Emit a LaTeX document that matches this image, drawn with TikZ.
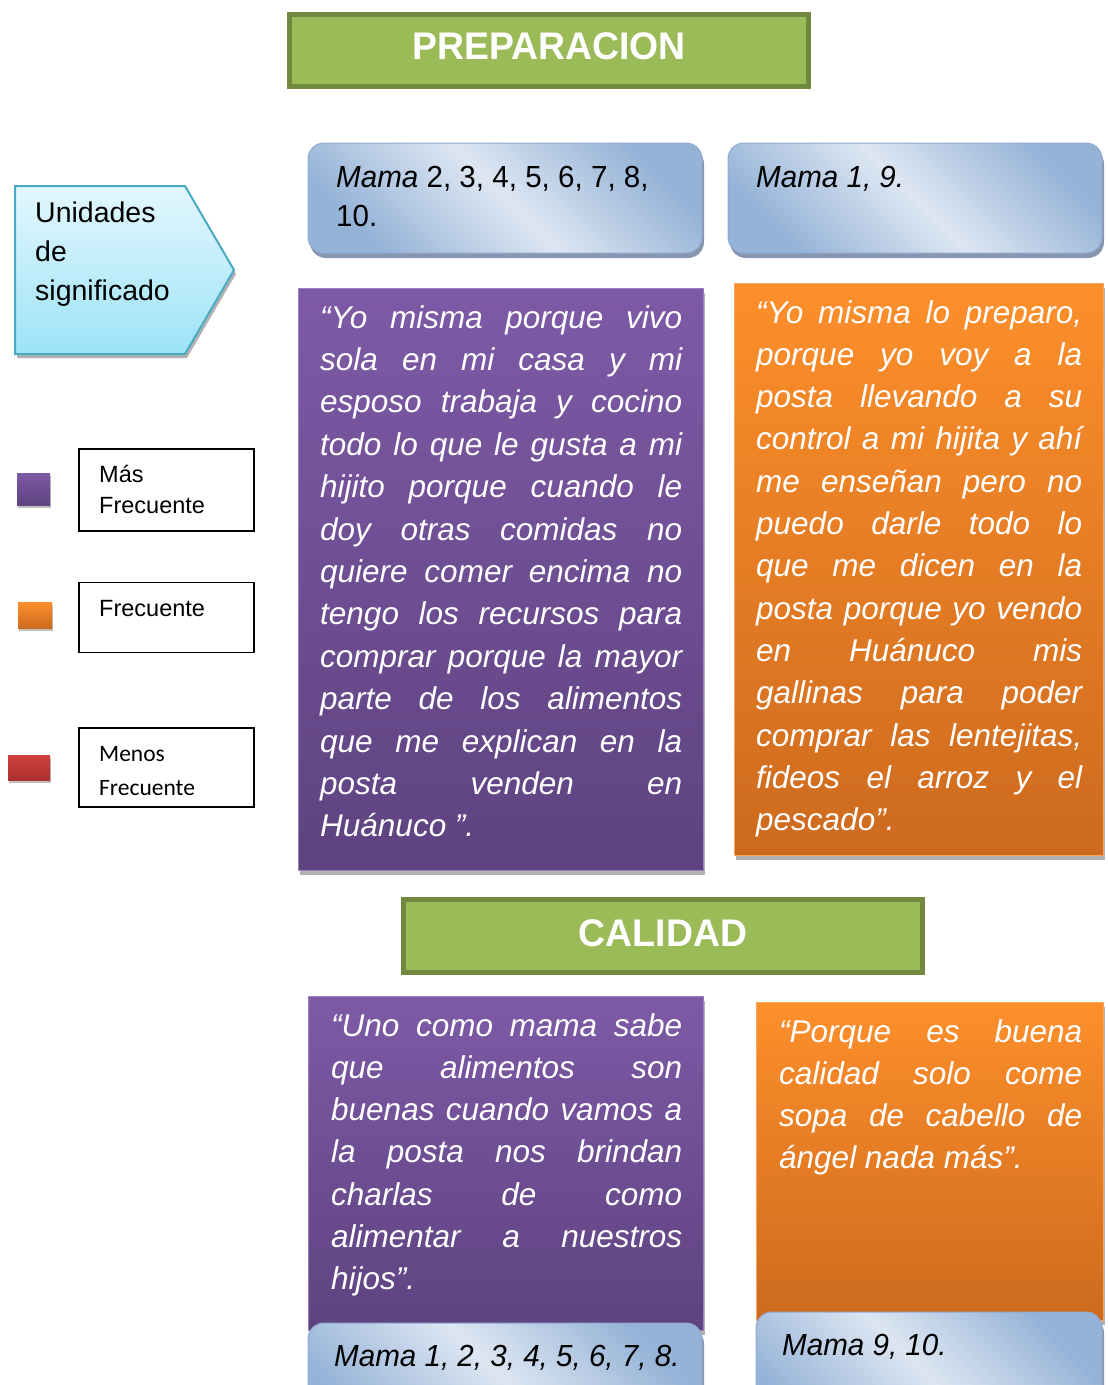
\documentclass[tikz,border=0pt]{standalone}
\usepackage{fontspec}
\setmainfont{Liberation Sans}
\newfontfamily\calib{Carlito}
\newfontfamily\condA[FakeStretch=0.97]{Liberation Sans}
\usetikzlibrary{shadows}
\definecolor{grnF}{HTML}{9BBB59}
\definecolor{grnD}{HTML}{71893F}
\definecolor{purT}{HTML}{7E5AA6}
\definecolor{purB}{HTML}{5E4380}
\definecolor{purE}{HTML}{9A82BC}
\definecolor{orgT}{HTML}{FD8F2B}
\definecolor{orgB}{HTML}{CD6A1E}
\definecolor{orgE}{HTML}{F9A45F}
\definecolor{bluD}{HTML}{95B3D7}
\definecolor{bluL}{HTML}{DDE6F2}
\definecolor{bluE}{HTML}{8FAAD2}
\definecolor{bluS}{HTML}{8796AE}
\definecolor{cyT}{HTML}{E3F7FD}
\definecolor{cyB}{HTML}{9DE3F7}
\definecolor{cyE}{HTML}{4AAAC5}
\definecolor{redT}{HTML}{D0403E}
\definecolor{redB}{HTML}{A8302E}
\newcommand\jl[1]{\makebox[\linewidth][s]{#1}\par}
\tikzset{
  titlebox/.style={draw=grnD, line width=5pt, fill=grnF, inner sep=0pt, outer sep=0pt},
  titletxt/.style={text=white, inner sep=0pt, font=\condA\fontsize{38.5}{40}\bfseries\selectfont},
  softshadow/.style={drop shadow={shadow xshift=2pt, shadow yshift=-5pt, opacity=0.3, fill=black}},
  purbox/.style={draw=purE, line width=1pt, top color=purT, bottom color=purB, inner sep=0pt, outer sep=0pt, softshadow},
  orgbox/.style={draw=orgE, line width=1pt, top color=orgT, bottom color=orgB, inner sep=0pt, outer sep=0pt, softshadow},
  bluebox/.style={draw=bluE, line width=1pt, rounded corners=16pt, top color=bluD, bottom color=bluD, middle color=bluL, shading angle=-45, inner sep=0pt, outer sep=0pt,
     drop shadow={shadow xshift=2pt, shadow yshift=-5pt, opacity=1, fill=bluS}},
  quotetxt/.style={text=white, inner sep=0pt, anchor=base west, font=\itshape},
  bluetxt/.style={text=black, inner sep=0pt, anchor=base west},
  legbox/.style={draw=black, line width=1.5pt, fill=white, inner sep=0pt, outer sep=0pt},
  legtxt/.style={text=black, inner sep=0pt, anchor=base west},
  sqshadow/.style={drop shadow={shadow xshift=1pt, shadow yshift=-3pt, opacity=0.25, fill=black}},
}
\begin{document}
\begin{tikzpicture}[x=1pt,y=-1pt]
\useasboundingbox (0,0) rectangle (1108,1385);
\clip (0,0) rectangle (1108,1385);
\fill[white] (0,0) rectangle (1108,1385);

% ---------- titles ----------
\node[titlebox, minimum width=519pt, minimum height=72pt] (prep) at (549,50.5) {};
\node[titletxt] (prepT) at (549,46) {PREPARACION};
\node[titlebox, minimum width=519pt, minimum height=73pt] (cal) at (663,936) {};
\node[titletxt] (calT) at (663,933) {CALIDAD};

% ---------- pentagon ----------
\draw[draw=cyE, line width=2pt, top color=cyT, bottom color=cyB,
      drop shadow={shadow xshift=2pt, shadow yshift=-4pt, opacity=0.3, fill=black}]
  (15,186) -- (185,186) -- (234,270) -- (185,354) -- (15,354) -- cycle;
\node[legtxt] (unid) at (35,222) {\parbox[t]{150pt}{\fontsize{28.5}{39}\selectfont Unidades\par de\par significado\par}};

% ---------- legend ----------
\node[draw=none, minimum width=33pt, minimum height=32pt, inner sep=0pt, top color=purT, bottom color=purB, sqshadow] (sqP) at (33.5,489) {};
\node[draw=none, minimum width=34pt, minimum height=26pt, inner sep=0pt, top color=orgT, bottom color=orgB, sqshadow] (sqO) at (35,615) {};
\node[draw=none, minimum width=42pt, minimum height=25pt, inner sep=0pt, top color=redT, bottom color=redB, sqshadow] (sqR) at (29,767.5) {};
\node[legbox, minimum width=175pt, minimum height=82pt] (lg1) at (166.5,490) {};
\node[legbox, minimum width=175pt, minimum height=70pt] (lg2) at (166.5,617.5) {};
\node[legbox, minimum width=175pt, minimum height=79pt] (lg3) at (166.5,767.5) {};
\node[legtxt] (lg1t) at (99,482) {\parbox[t]{150pt}{\fontsize{23.5}{31}\selectfont Más\par Frecuente\par}};
\node[legtxt] (lg2t) at (99,616) {\fontsize{23.5}{31}\selectfont Frecuente};
\node[legtxt] (lg3t) at (99,761.5) {\parbox[t]{150pt}{\calib\fontsize{23.5}{34}\selectfont Menos\par Frecuente\par}};

% ---------- top blue boxes ----------
\node[bluebox, minimum width=394pt, minimum height=110pt] (b1) at (505,198) {};
\node[bluebox, minimum width=374pt, minimum height=110pt] (b2) at (915,198) {};
\node[bluetxt] (b1t) at (336,187) {\parbox[t]{360pt}{\condA\fontsize{30.5}{39}\selectfont\textit{Mama} 2, 3, 4, 5, 6, 7, 8,\par 10.\par}};
\node[bluetxt] (b2t) at (756,187) {\condA\fontsize{30.5}{39}\selectfont\textit{Mama 1, 9.}};

% ---------- quote boxes (preparacion) ----------
\node[purbox, minimum width=405pt, minimum height=582pt] (p1) at (500.5,579) {};
\node[orgbox, minimum width=369pt, minimum height=572pt] (o1) at (918.5,569) {};
\node[quotetxt] (p1t) at (320,328) {\parbox[t]{362pt}{\fontsize{31.5}{42.4}\selectfont
\jl{“Yo misma porque vivo}
\jl{sola en mi casa y mi}
\jl{esposo trabaja y cocino}
\jl{todo lo que le gusta a mi}
\jl{hijito porque cuando le}
\jl{doy otras comidas no}
\jl{quiere comer encima no}
\jl{tengo los recursos para}
\jl{comprar porque la mayor}
\jl{parte de los alimentos}
\jl{que me explican en la}
\jl{posta venden en}
Huánuco ”.\par}};
\node[quotetxt] (o1t) at (756,323) {\parbox[t]{326pt}{\fontsize{31.5}{42.3}\selectfont
\jl{“Yo misma lo preparo,}
\jl{porque yo voy a la}
\jl{posta llevando a su}
\jl{control a mi hijita y ahí}
\jl{me enseñan pero no}
\jl{puedo darle todo lo}
\jl{que me dicen en la}
\jl{posta porque yo vendo}
\jl{en Huánuco mis}
\jl{gallinas para poder}
\jl{comprar las lentejitas,}
\jl{fideos el arroz y el}
pescado”.\par}};

% ---------- quote boxes (calidad) ----------
\node[purbox, minimum width=395pt, minimum height=334pt] (p2) at (505.5,1163) {};
\node[orgbox, minimum width=347pt, minimum height=318pt] (o2) at (929.5,1161) {};
\node[quotetxt] (p2t) at (331,1036) {\parbox[t]{351pt}{\fontsize{31.5}{42.3}\selectfont
\jl{“Uno como mama sabe}
\jl{que alimentos son}
\jl{buenas cuando vamos a}
\jl{la posta nos brindan}
\jl{charlas de como}
\jl{alimentar a nuestros}
hijos”.\par}};
\node[quotetxt] (o2t) at (779,1042) {\parbox[t]{303pt}{\fontsize{31.5}{42}\selectfont
\jl{“Porque es buena}
\jl{calidad solo come}
\jl{sopa de cabello de}
ángel nada más”.\par}};

% ---------- bottom blue boxes ----------
\node[bluebox, minimum width=394pt, minimum height=117pt] (b3) at (505,1381.5) {};
\node[bluebox, minimum width=346pt, minimum height=128pt] (b4) at (929,1376) {};
\node[bluetxt] (b3t) at (334,1366) {\condA\fontsize{30.5}{39}\selectfont\textit{Mama 1, 2, 3, 4, 5, 6, 7, 8.}};
\node[bluetxt] (b4t) at (782,1355) {\condA\fontsize{30.5}{39}\selectfont\textit{Mama 9, 10.}};
\end{tikzpicture}
\end{document}
